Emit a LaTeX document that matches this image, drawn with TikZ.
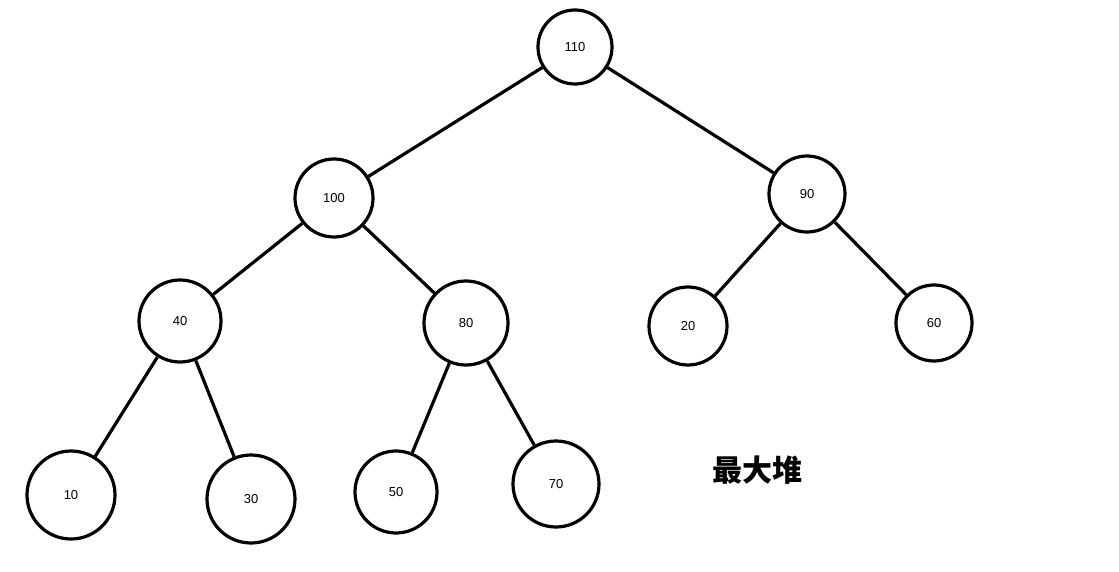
\documentclass[tikz,border=0pt]{standalone}
\usepackage{fontspec}
\setmainfont{Liberation Sans}
\newfontfamily\cjk{Noto Sans CJK SC}
\begin{document}
\begin{tikzpicture}[x=1pt,y=-1pt,
  hn/.style={circle,draw=black,line width=3.2pt,inner sep=0pt,font=\fontsize{13}{15}\selectfont},
  ed/.style={line width=3.2pt,draw=black}]
\useasboundingbox[fill=white] (0,0) rectangle (1119,572);
\node[hn,minimum size=74pt] (n110) at (575,47) {110};
\node[hn,minimum size=78pt] (n100) at (334,198) {100};
\node[hn,minimum size=76pt] (n90) at (807,194) {90};
\node[hn,minimum size=82pt] (n40) at (180,321) {40};
\node[hn,minimum size=84pt] (n80) at (466,323) {80};
\node[hn,minimum size=78pt] (n20) at (688,326) {20};
\node[hn,minimum size=76pt] (n60) at (934,323) {60};
\node[hn,minimum size=88pt] (n10) at (71,495) {10};
\node[hn,minimum size=88pt] (n30) at (251,499) {30};
\node[hn,minimum size=82pt] (n50) at (396,492) {50};
\node[hn,minimum size=86pt] (n70) at (556,484) {70};
\node[font=\cjk\bfseries\fontsize{30}{34}\selectfont] (title) at (757,470) {最大堆};
\draw[ed] (n110) -- (n100);
\draw[ed] (n110) -- (n90);
\draw[ed] (n100) -- (n40);
\draw[ed] (n100) -- (n80);
\draw[ed] (n90) -- (n20);
\draw[ed] (n90) -- (n60);
\draw[ed] (n40) -- (n10);
\draw[ed] (n40) -- (n30);
\draw[ed] (n80) -- (n50);
\draw[ed] (n80) -- (n70);
\end{tikzpicture}
\end{document}
